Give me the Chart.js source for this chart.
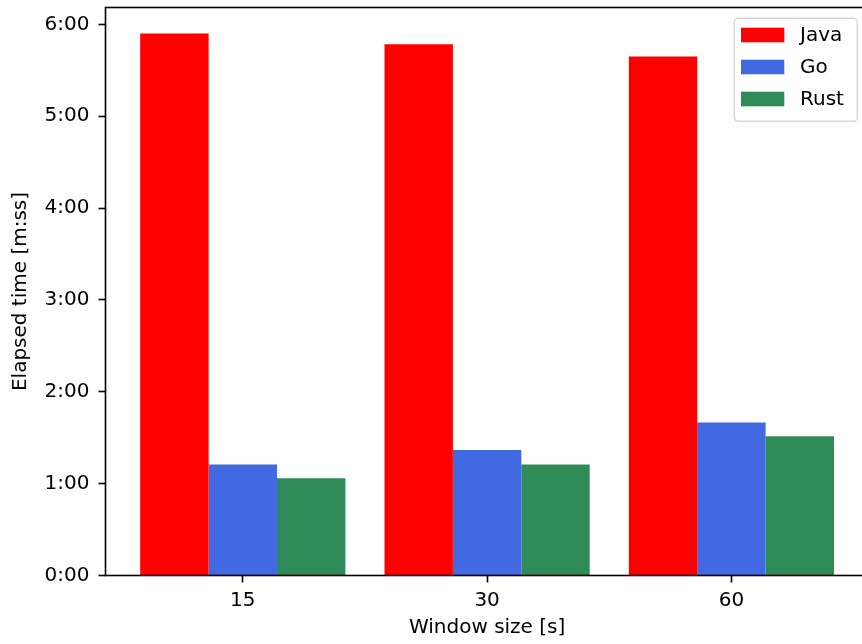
<!DOCTYPE html>
<html>
<head>
<meta charset="utf-8">
<script src="https://cdn.jsdelivr.net/npm/chart.js@4.4.1/dist/chart.umd.min.js"></script>
<style>
  html, body { margin: 0; padding: 0; background: #fff; overflow: hidden; }
  #wrap { position: relative; width: 872px; height: 644px; }
</style>
</head>
<body>
<div id="wrap"><canvas id="barChart"></canvas></div>
<script>
// window sizes in seconds, elapsed times in seconds
var windowSizes = ['15', '30', '60'];
var javaTimes = [354, 347, 339];
var goTimes = [72.5, 82, 100];
var rustTimes = [63.5, 72.5, 91];
var yTicks = [0, 60, 120, 180, 240, 300, 360];

function mss(sec) {
    var m = Math.floor(sec / 60);
    var s = Math.round(sec - m * 60);
    return m + ':' + (s < 10 ? '0' : '') + s;
}

function points(vals) {
    return vals.map(function (v, i) { return { x: i, y: v }; });
}

// matplotlib style box around the axes
var frame = {
    id: 'frame',
    afterDatasetsDraw: function (chart) {
        var a = chart.chartArea, ctx = chart.ctx;
        ctx.save();
        ctx.strokeStyle = '#000';
        ctx.lineWidth = 1.6;
        ctx.strokeRect(a.left, a.top, a.right - a.left, a.bottom - a.top);
        ctx.restore();
    }
};

// legend inside the upper right corner
var boxLegend = {
    id: 'boxLegend',
    afterDraw: function (chart) {
        var a = chart.chartArea, ctx = chart.ctx;
        var sets = chart.data.datasets;
        var w = 123, rowH = 32, h = 103;
        var x = a.right - 11.4 - w, y = a.top + 10.8;
        ctx.save();
        ctx.beginPath();
        ctx.roundRect(x, y, w, h, 4);
        ctx.fillStyle = 'rgba(255,255,255,0.8)';
        ctx.fill();
        ctx.strokeStyle = 'rgba(204,204,204,0.8)';
        ctx.lineWidth = 1.5;
        ctx.stroke();
        ctx.font = '20px "DejaVu Sans"';
        ctx.textBaseline = 'middle';
        ctx.textAlign = 'left';
        sets.forEach(function (ds, i) {
            var cy = y + 16.7 + i * rowH;
            ctx.fillStyle = ds.backgroundColor;
            ctx.fillRect(x + 6.7, cy - 7.3, 43.3, 14.6);
            ctx.fillStyle = '#000';
            ctx.fillText(ds.label, x + 65.7, cy + 1);
        });
        ctx.restore();
    }
};

var canvas = document.getElementById('barChart');

var barChart = new Chart(canvas, {
    type: 'bar',
    data: {
        datasets: [
            { label: 'Java', data: points(javaTimes), backgroundColor: 'red' },
            { label: 'Go', data: points(goTimes), backgroundColor: 'royalblue' },
            { label: 'Rust', data: points(rustTimes), backgroundColor: 'seagreen' }
        ]
    },
    options: {
        responsive: true,
        maintainAspectRatio: false,
        animation: false,
        categoryPercentage: 0.84,
        barPercentage: 1,
        layout: { padding: { top: 7.5, right: 3.3, left: 0, bottom: 0 } },
        plugins: {
            legend: { display: false },
            tooltip: { enabled: false }
        },
        scales: {
            x: {
                type: 'linear',
                offset: false,
                min: -0.562,
                max: 2.562,
                afterBuildTicks: function (scale) {
                    scale.ticks = windowSizes.map(function (s, i) { return { value: i }; });
                },
                afterFit: function (scale) {
                    scale.height = 68.5;
                    scale.paddingLeft = 0;
                    scale.paddingRight = 0;
                },
                border: { display: false },
                grid: { offset: false, drawOnChartArea: false, drawTicks: true, tickLength: 7, tickWidth: 1.6, tickColor: '#000' },
                ticks: {
                    color: '#000',
                    padding: 6.5,
                    maxRotation: 0,
                    font: { family: 'DejaVu Sans', size: 20 },
                    callback: function (value, index) { return windowSizes[index]; }
                },
                title: {
                    display: true,
                    text: 'Window size [s]',
                    color: '#000',
                    font: { family: 'DejaVu Sans', size: 20 },
                    padding: { top: 0, bottom: 4 }
                }
            },
            y: {
                min: 0,
                max: 371,
                afterBuildTicks: function (scale) {
                    scale.ticks = yTicks.map(function (v) { return { value: v }; });
                },
                afterFit: function (scale) {
                    scale.width = 105.5;
                    scale.paddingTop = 0;
                    scale.paddingBottom = 0;
                },
                border: { display: false },
                grid: { drawOnChartArea: false, drawTicks: true, tickLength: 7, tickWidth: 1.6, tickColor: '#000' },
                ticks: {
                    color: '#000',
                    padding: 9,
                    font: { family: 'DejaVu Sans', size: 20 },
                    callback: function (value) { return mss(value); }
                },
                title: {
                    display: true,
                    text: 'Elapsed time [m:ss]',
                    color: '#000',
                    font: { family: 'DejaVu Sans', size: 20 },
                    padding: { top: 9, bottom: 0 }
                }
            }
        }
    },
    plugins: [frame, boxLegend]
});
</script>
</body>
</html>
